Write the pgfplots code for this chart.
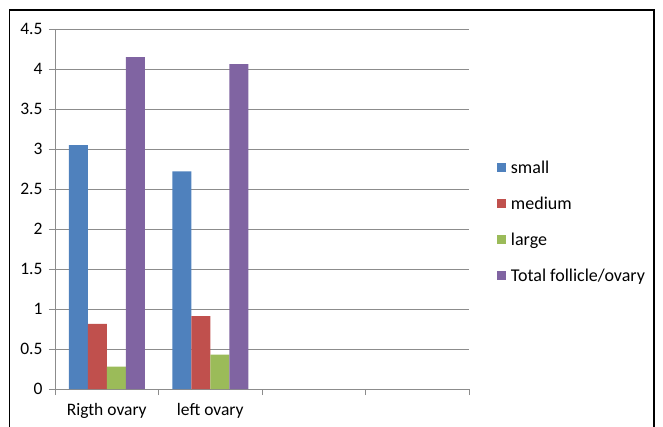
\documentclass[border=0pt]{standalone}
\usepackage{fontspec}
\setmainfont{Carlito}
\usepackage{pgfplots}
\pgfplotsset{compat=1.18}
\definecolor{cblue}{HTML}{4F81BD}
\definecolor{cred}{HTML}{C0504D}
\definecolor{cgreen}{HTML}{9BBB59}
\definecolor{cpurple}{HTML}{8064A2}
\definecolor{gridc}{HTML}{8C8C8C}
\begin{document}
\begin{tikzpicture}[x=1pt,y=1pt]
\useasboundingbox (0,0) rectangle (663,426);
\begin{scope}
\clip (0,0) rectangle (663,426);
\draw[line width=1.6pt,black] (9.5,416) rectangle (654,-20);
\end{scope}
\begin{axis}[
  at={(55pt,37pt)}, anchor=south west,
  scale only axis, width=414pt, height=360pt,
  ybar=0pt, bar width=19pt,
  xmin=-0.5, xmax=3.5, ymin=0, ymax=4.5,
  ytick={0,0.5,...,4.5},
  yticklabels={0,0.5,1,1.5,2,2.5,3,3.5,4,4.5},
  xtick={-0.5,0.5,1.5,2.5,3.5},
  x tick label as interval,
  xticklabels={Rigth ovary,left ovary,{},{}},
  axis x line*=bottom, axis y line*=left,
  axis line style={gridc, line width=0.8pt, -},
  ymajorgrids, grid style={gridc, line width=0.8pt},
  tick style={gridc, line width=0.8pt},
  tick align=outside, major tick length=6pt,
  /pgf/number format/assume math mode=true,
  tick label style={font=\fontsize{17.5}{20}\selectfont, black},
  yticklabel style={xshift=-3pt},
  xticklabel style={yshift=-5pt},
  legend style={draw=none, fill=none, at={(1.061,0.464)}, anchor=west,
    font=\fontsize{18}{20}\selectfont, row sep=18pt,
    /tikz/every odd column/.append style={column sep=2.5pt}},
  legend cell align=left,
  legend image code/.code={\fill[#1] (0pt,-4.5pt) rectangle (9pt,4.5pt);},
]
\addplot[fill=cblue, draw=none] coordinates {(0,3.05) (1,2.72)};
\addplot[fill=cred, draw=none] coordinates {(0,0.815) (1,0.91)};
\addplot[fill=cgreen, draw=none] coordinates {(0,0.28) (1,0.43)};
\addplot[fill=cpurple, draw=none] coordinates {(0,4.15) (1,4.06)};
\legend{small,medium,large,Total follicle/ovary}
\end{axis}
\end{tikzpicture}
\end{document}
